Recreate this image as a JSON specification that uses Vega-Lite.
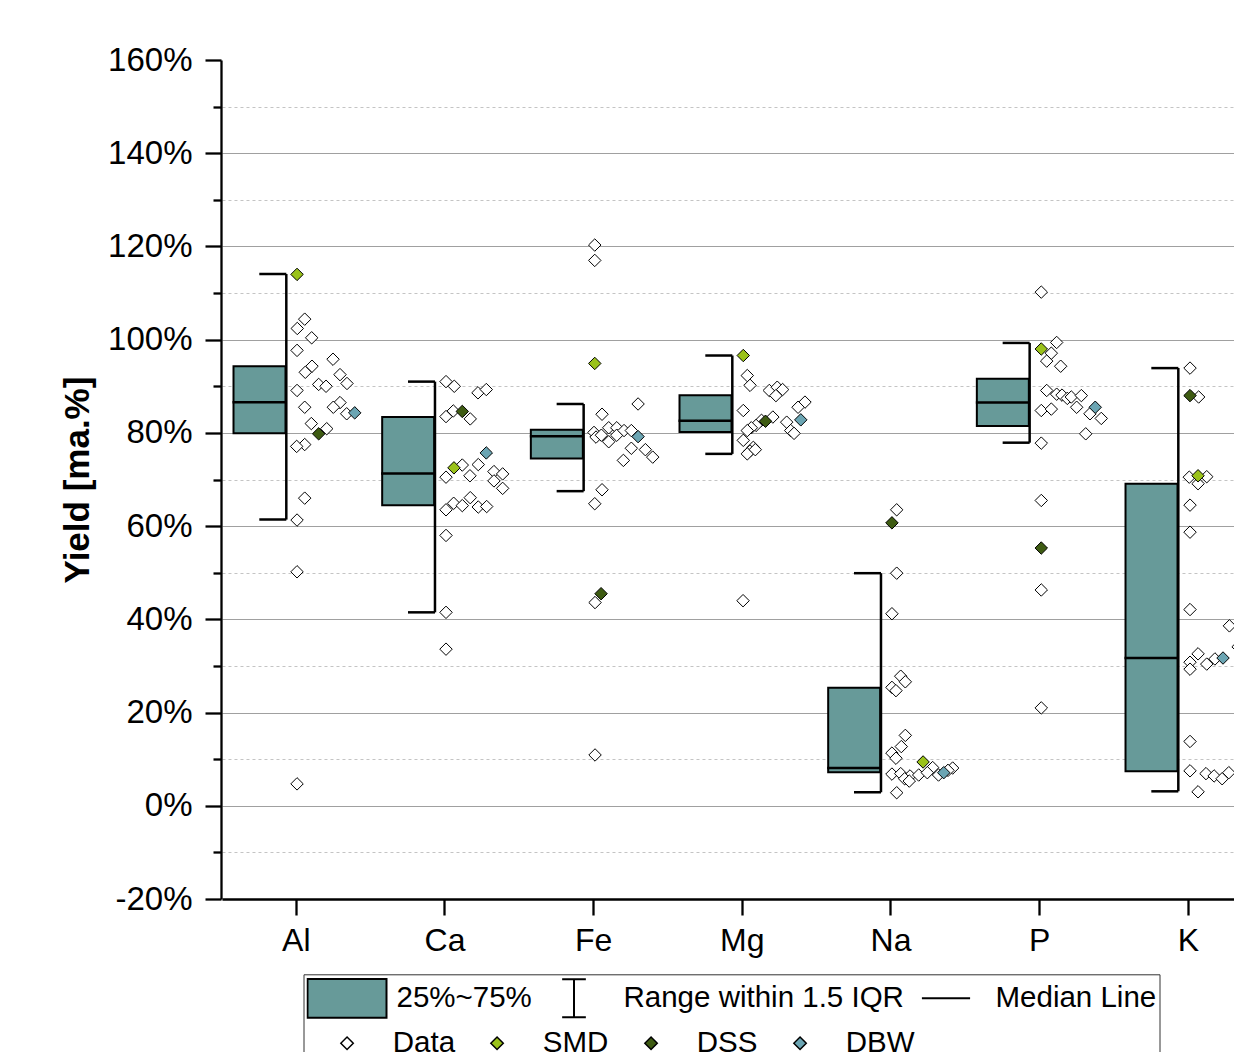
{
  "$schema": "https://vega.github.io/schema/vega-lite/v6.json",
  "autosize": "none",
  "width": 1013,
  "height": 839,
  "padding": {"left": 221, "top": 60, "right": 0, "bottom": 153},
  "background": "white",
  "config": {"view": {"stroke": null}, "font": "Liberation Sans"},
  "datasets": {
    "boxes": [
      {"cat": "Al", "lo": 61.4, "q1": 79.9, "med": 86.6, "q3": 94.3, "hi": 114.1},
      {"cat": "Ca", "lo": 41.5, "q1": 64.5, "med": 71.3, "q3": 83.4, "hi": 91.0},
      {"cat": "Fe", "lo": 67.5, "q1": 74.5, "med": 79.3, "q3": 80.7, "hi": 86.2},
      {"cat": "Mg", "lo": 75.5, "q1": 80.2, "med": 82.6, "q3": 88.1, "hi": 96.6},
      {"cat": "Na", "lo": 2.9, "q1": 7.2, "med": 8.1, "q3": 25.3, "hi": 49.9},
      {"cat": "P", "lo": 77.9, "q1": 81.5, "med": 86.5, "q3": 91.6, "hi": 99.3},
      {"cat": "K", "lo": 3.1, "q1": 7.4, "med": 31.7, "q3": 69.1, "hi": 93.9}
    ],
    "points": [
      {"cat": "Al", "series": "Data", "value": 104.4, "jitter": 1.13},
      {"cat": "Al", "series": "Data", "value": 102.4, "jitter": 0.13},
      {"cat": "Al", "series": "Data", "value": 100.4, "jitter": 2.07},
      {"cat": "Al", "series": "Data", "value": 97.7, "jitter": 0.1},
      {"cat": "Al", "series": "Data", "value": 95.8, "jitter": 4.94},
      {"cat": "Al", "series": "Data", "value": 94.3, "jitter": 2.11},
      {"cat": "Al", "series": "Data", "value": 93.0, "jitter": 1.21},
      {"cat": "Al", "series": "Data", "value": 92.5, "jitter": 5.88},
      {"cat": "Al", "series": "Data", "value": 90.6, "jitter": 6.82},
      {"cat": "Al", "series": "Data", "value": 90.4, "jitter": 3.01},
      {"cat": "Al", "series": "Data", "value": 90.0, "jitter": 4.0},
      {"cat": "Al", "series": "Data", "value": 89.1, "jitter": 0.1},
      {"cat": "Al", "series": "Data", "value": 86.5, "jitter": 5.88},
      {"cat": "Al", "series": "Data", "value": 85.5, "jitter": 4.98},
      {"cat": "Al", "series": "Data", "value": 85.5, "jitter": 1.13},
      {"cat": "Al", "series": "Data", "value": 84.1, "jitter": 6.78},
      {"cat": "Al", "series": "Data", "value": 82.0, "jitter": 2.02},
      {"cat": "Al", "series": "Data", "value": 80.9, "jitter": 4.09},
      {"cat": "Al", "series": "Data", "value": 77.5, "jitter": 1.13},
      {"cat": "Al", "series": "Data", "value": 77.1, "jitter": 0.05},
      {"cat": "Al", "series": "Data", "value": 66.0, "jitter": 1.13},
      {"cat": "Al", "series": "Data", "value": 61.3, "jitter": 0.1},
      {"cat": "Al", "series": "Data", "value": 50.2, "jitter": 0.1},
      {"cat": "Al", "series": "Data", "value": 4.7, "jitter": 0.1},
      {"cat": "Ca", "series": "Data", "value": 91.0, "jitter": 0.14},
      {"cat": "Ca", "series": "Data", "value": 90.0, "jitter": 1.25},
      {"cat": "Ca", "series": "Data", "value": 88.6, "jitter": 4.44},
      {"cat": "Ca", "series": "Data", "value": 89.3, "jitter": 5.56},
      {"cat": "Ca", "series": "Data", "value": 83.5, "jitter": 0.14},
      {"cat": "Ca", "series": "Data", "value": 84.7, "jitter": 1.12},
      {"cat": "Ca", "series": "Data", "value": 83.0, "jitter": 3.4},
      {"cat": "Ca", "series": "Data", "value": 73.2, "jitter": 4.48},
      {"cat": "Ca", "series": "Data", "value": 73.1, "jitter": 2.33},
      {"cat": "Ca", "series": "Data", "value": 70.5, "jitter": 0.14},
      {"cat": "Ca", "series": "Data", "value": 70.8, "jitter": 3.36},
      {"cat": "Ca", "series": "Data", "value": 71.7, "jitter": 6.59},
      {"cat": "Ca", "series": "Data", "value": 71.2, "jitter": 7.76},
      {"cat": "Ca", "series": "Data", "value": 69.7, "jitter": 6.59},
      {"cat": "Ca", "series": "Data", "value": 68.1, "jitter": 7.76},
      {"cat": "Ca", "series": "Data", "value": 63.5, "jitter": 0.14},
      {"cat": "Ca", "series": "Data", "value": 64.9, "jitter": 1.17},
      {"cat": "Ca", "series": "Data", "value": 64.4, "jitter": 2.33},
      {"cat": "Ca", "series": "Data", "value": 66.1, "jitter": 3.4},
      {"cat": "Ca", "series": "Data", "value": 64.1, "jitter": 4.48},
      {"cat": "Ca", "series": "Data", "value": 64.2, "jitter": 5.61},
      {"cat": "Ca", "series": "Data", "value": 58.0, "jitter": 0.14},
      {"cat": "Ca", "series": "Data", "value": 41.5, "jitter": 0.14},
      {"cat": "Ca", "series": "Data", "value": 33.6, "jitter": 0.14},
      {"cat": "Fe", "series": "Data", "value": 120.3, "jitter": 0.15},
      {"cat": "Fe", "series": "Data", "value": 117.0, "jitter": 0.15},
      {"cat": "Fe", "series": "Data", "value": 86.2, "jitter": 5.98},
      {"cat": "Fe", "series": "Data", "value": 84.0, "jitter": 1.13},
      {"cat": "Fe", "series": "Data", "value": 80.1, "jitter": 0.05},
      {"cat": "Fe", "series": "Data", "value": 79.1, "jitter": 0.32},
      {"cat": "Fe", "series": "Data", "value": 79.5, "jitter": 1.04},
      {"cat": "Fe", "series": "Data", "value": 81.1, "jitter": 2.03},
      {"cat": "Fe", "series": "Data", "value": 78.1, "jitter": 2.03},
      {"cat": "Fe", "series": "Data", "value": 81.1, "jitter": 3.11},
      {"cat": "Fe", "series": "Data", "value": 79.5, "jitter": 3.11},
      {"cat": "Fe", "series": "Data", "value": 80.5, "jitter": 4.09},
      {"cat": "Fe", "series": "Data", "value": 80.5, "jitter": 5.07},
      {"cat": "Fe", "series": "Data", "value": 76.7, "jitter": 5.07},
      {"cat": "Fe", "series": "Data", "value": 76.4, "jitter": 6.96},
      {"cat": "Fe", "series": "Data", "value": 74.8, "jitter": 7.95},
      {"cat": "Fe", "series": "Data", "value": 74.1, "jitter": 4.0},
      {"cat": "Fe", "series": "Data", "value": 67.8, "jitter": 1.13},
      {"cat": "Fe", "series": "Data", "value": 64.8, "jitter": 0.15},
      {"cat": "Fe", "series": "Data", "value": 43.6, "jitter": 0.19},
      {"cat": "Fe", "series": "Data", "value": 10.9, "jitter": 0.19},
      {"cat": "Mg", "series": "Data", "value": 92.3, "jitter": 0.67},
      {"cat": "Mg", "series": "Data", "value": 90.2, "jitter": 1.04},
      {"cat": "Mg", "series": "Data", "value": 89.1, "jitter": 3.63},
      {"cat": "Mg", "series": "Data", "value": 89.8, "jitter": 4.7},
      {"cat": "Mg", "series": "Data", "value": 89.3, "jitter": 5.42},
      {"cat": "Mg", "series": "Data", "value": 88.0, "jitter": 4.52},
      {"cat": "Mg", "series": "Data", "value": 86.6, "jitter": 8.43},
      {"cat": "Mg", "series": "Data", "value": 85.5, "jitter": 7.5},
      {"cat": "Mg", "series": "Data", "value": 84.8, "jitter": 0.13},
      {"cat": "Mg", "series": "Data", "value": 83.4, "jitter": 4.11},
      {"cat": "Mg", "series": "Data", "value": 82.7, "jitter": 2.58},
      {"cat": "Mg", "series": "Data", "value": 82.3, "jitter": 5.97},
      {"cat": "Mg", "series": "Data", "value": 81.6, "jitter": 1.85},
      {"cat": "Mg", "series": "Data", "value": 81.1, "jitter": 1.21},
      {"cat": "Mg", "series": "Data", "value": 80.5, "jitter": 0.67},
      {"cat": "Mg", "series": "Data", "value": 80.5, "jitter": 6.51},
      {"cat": "Mg", "series": "Data", "value": 79.9, "jitter": 6.96},
      {"cat": "Mg", "series": "Data", "value": 78.4, "jitter": 0.13},
      {"cat": "Mg", "series": "Data", "value": 76.9, "jitter": 1.48},
      {"cat": "Mg", "series": "Data", "value": 76.1, "jitter": 1.04},
      {"cat": "Mg", "series": "Data", "value": 75.5, "jitter": 0.67},
      {"cat": "Mg", "series": "Data", "value": 76.4, "jitter": 1.75},
      {"cat": "Mg", "series": "Data", "value": 44.0, "jitter": 0.1},
      {"cat": "Na", "series": "Data", "value": 63.5, "jitter": 0.77},
      {"cat": "Na", "series": "Data", "value": 49.9, "jitter": 0.77},
      {"cat": "Na", "series": "Data", "value": 41.2, "jitter": 0.13},
      {"cat": "Na", "series": "Data", "value": 27.8, "jitter": 1.31},
      {"cat": "Na", "series": "Data", "value": 26.6, "jitter": 1.93},
      {"cat": "Na", "series": "Data", "value": 25.4, "jitter": 0.13},
      {"cat": "Na", "series": "Data", "value": 24.7, "jitter": 0.67},
      {"cat": "Na", "series": "Data", "value": 15.1, "jitter": 1.93},
      {"cat": "Na", "series": "Data", "value": 12.7, "jitter": 1.39},
      {"cat": "Na", "series": "Data", "value": 11.3, "jitter": 0.13},
      {"cat": "Na", "series": "Data", "value": 10.2, "jitter": 0.67},
      {"cat": "Na", "series": "Data", "value": 8.2, "jitter": 5.61},
      {"cat": "Na", "series": "Data", "value": 8.1, "jitter": 8.3},
      {"cat": "Na", "series": "Data", "value": 7.6, "jitter": 7.67},
      {"cat": "Na", "series": "Data", "value": 6.6, "jitter": 6.4},
      {"cat": "Na", "series": "Data", "value": 6.8, "jitter": 0.13},
      {"cat": "Na", "series": "Data", "value": 6.9, "jitter": 1.31},
      {"cat": "Na", "series": "Data", "value": 6.4, "jitter": 2.56},
      {"cat": "Na", "series": "Data", "value": 6.6, "jitter": 3.73},
      {"cat": "Na", "series": "Data", "value": 7.1, "jitter": 4.89},
      {"cat": "Na", "series": "Data", "value": 5.8, "jitter": 1.84},
      {"cat": "Na", "series": "Data", "value": 5.3, "jitter": 2.46},
      {"cat": "Na", "series": "Data", "value": 2.8, "jitter": 0.77},
      {"cat": "P", "series": "Data", "value": 110.2, "jitter": 0.22},
      {"cat": "P", "series": "Data", "value": 99.4, "jitter": 2.29},
      {"cat": "P", "series": "Data", "value": 97.1, "jitter": 1.57},
      {"cat": "P", "series": "Data", "value": 95.4, "jitter": 0.95},
      {"cat": "P", "series": "Data", "value": 94.3, "jitter": 2.83},
      {"cat": "P", "series": "Data", "value": 89.1, "jitter": 0.95},
      {"cat": "P", "series": "Data", "value": 88.3, "jitter": 2.29},
      {"cat": "P", "series": "Data", "value": 88.1, "jitter": 3.01},
      {"cat": "P", "series": "Data", "value": 87.4, "jitter": 3.72},
      {"cat": "P", "series": "Data", "value": 87.7, "jitter": 4.26},
      {"cat": "P", "series": "Data", "value": 88.0, "jitter": 5.61},
      {"cat": "P", "series": "Data", "value": 85.5, "jitter": 4.98},
      {"cat": "P", "series": "Data", "value": 84.1, "jitter": 6.77},
      {"cat": "P", "series": "Data", "value": 83.1, "jitter": 8.29},
      {"cat": "P", "series": "Data", "value": 84.8, "jitter": 0.22},
      {"cat": "P", "series": "Data", "value": 85.1, "jitter": 1.57},
      {"cat": "P", "series": "Data", "value": 79.8, "jitter": 6.2},
      {"cat": "P", "series": "Data", "value": 77.8, "jitter": 0.22},
      {"cat": "P", "series": "Data", "value": 65.5, "jitter": 0.22},
      {"cat": "P", "series": "Data", "value": 46.3, "jitter": 0.22},
      {"cat": "P", "series": "Data", "value": 21.0, "jitter": 0.22},
      {"cat": "K", "series": "Data", "value": 93.9, "jitter": 0.23},
      {"cat": "K", "series": "Data", "value": 87.7, "jitter": 1.39},
      {"cat": "K", "series": "Data", "value": 70.5, "jitter": 0.13},
      {"cat": "K", "series": "Data", "value": 70.6, "jitter": 2.48},
      {"cat": "K", "series": "Data", "value": 69.1, "jitter": 1.31},
      {"cat": "K", "series": "Data", "value": 64.5, "jitter": 0.23},
      {"cat": "K", "series": "Data", "value": 58.7, "jitter": 0.23},
      {"cat": "K", "series": "Data", "value": 42.1, "jitter": 0.23},
      {"cat": "K", "series": "Data", "value": 38.6, "jitter": 5.53},
      {"cat": "K", "series": "Data", "value": 34.1, "jitter": 6.7},
      {"cat": "K", "series": "Data", "value": 32.6, "jitter": 1.31},
      {"cat": "K", "series": "Data", "value": 30.8, "jitter": 0.23},
      {"cat": "K", "series": "Data", "value": 29.3, "jitter": 0.23},
      {"cat": "K", "series": "Data", "value": 30.4, "jitter": 2.48},
      {"cat": "K", "series": "Data", "value": 31.5, "jitter": 3.58},
      {"cat": "K", "series": "Data", "value": 13.8, "jitter": 0.23},
      {"cat": "K", "series": "Data", "value": 7.5, "jitter": 0.23},
      {"cat": "K", "series": "Data", "value": 6.9, "jitter": 2.38},
      {"cat": "K", "series": "Data", "value": 6.4, "jitter": 3.47},
      {"cat": "K", "series": "Data", "value": 5.8, "jitter": 4.55},
      {"cat": "K", "series": "Data", "value": 7.1, "jitter": 5.45},
      {"cat": "K", "series": "Data", "value": 3.0, "jitter": 1.31},
      {"cat": "Al", "series": "SMD", "value": 114.0, "jitter": 0.1},
      {"cat": "Ca", "series": "SMD", "value": 72.5, "jitter": 1.21},
      {"cat": "Fe", "series": "SMD", "value": 94.9, "jitter": 0.15},
      {"cat": "Mg", "series": "SMD", "value": 96.6, "jitter": 0.13},
      {"cat": "Na", "series": "SMD", "value": 9.4, "jitter": 4.32},
      {"cat": "P", "series": "SMD", "value": 98.0, "jitter": 0.22},
      {"cat": "K", "series": "SMD", "value": 70.8, "jitter": 1.31},
      {"cat": "Al", "series": "DSS", "value": 79.8, "jitter": 3.01},
      {"cat": "Ca", "series": "DSS", "value": 84.6, "jitter": 2.33},
      {"cat": "Fe", "series": "DSS", "value": 45.5, "jitter": 1.0},
      {"cat": "Mg", "series": "DSS", "value": 82.5, "jitter": 3.12},
      {"cat": "Na", "series": "DSS", "value": 60.7, "jitter": 0.13},
      {"cat": "P", "series": "DSS", "value": 55.3, "jitter": 0.22},
      {"cat": "K", "series": "DSS", "value": 88.0, "jitter": 0.23},
      {"cat": "Al", "series": "DBW", "value": 84.3, "jitter": 7.86},
      {"cat": "Ca", "series": "DBW", "value": 75.7, "jitter": 5.56},
      {"cat": "Fe", "series": "DBW", "value": 79.2, "jitter": 5.98},
      {"cat": "Mg", "series": "DBW", "value": 82.8, "jitter": 7.87},
      {"cat": "Na", "series": "DBW", "value": 7.1, "jitter": 7.1},
      {"cat": "P", "series": "DBW", "value": 85.5, "jitter": 7.48},
      {"cat": "K", "series": "DBW", "value": 31.7, "jitter": 4.67}
    ]
  },
  "encoding": {
    "x": {
      "field": "cat",
      "type": "nominal",
      "sort": ["Al", "Ca", "Fe", "Mg", "Na", "P", "K"],
      "scale": {"type": "band", "paddingInner": 0, "paddingOuter": 0, "range": [0.97, 1041.65]},
      "axis": {
        "title": null,
        "labelFont": "Liberation Sans",
        "labelFontSize": 32,
        "labelColor": "black",
        "labelPadding": 10,
        "labelAngle": 0,
        "tickSize": 16,
        "tickWidth": 2.3,
        "tickColor": "black",
        "domainColor": "black",
        "domainWidth": 2.3,
        "grid": false,
        "bandPosition": 0.5
      }
    }
  },
  "layer": [
    {
      "data": {"name": "boxes"},
      "mark": {"type": "bar", "width": 52, "xOffset": -36.8, "fill": "#679a99", "stroke": "black", "strokeWidth": 2},
      "encoding": {
        "y": {
          "field": "q1",
          "type": "quantitative",
          "scale": {"domain": [-20, 160], "nice": false, "zero": false},
          "axis": {
            "orient": "left",
            "values": [-20, 0, 20, 40, 60, 80, 100, 120, 140, 160],
            "labelExpr": "datum.value + '%'",
            "title": "Yield [ma.%]",
            "titleFont": "Liberation Sans",
            "titleFontSize": 35,
            "titleFontWeight": "bold",
            "titleColor": "black",
            "titlePadding": 12,
            "labelFont": "Liberation Sans",
            "labelFontSize": 33,
            "labelColor": "black",
            "labelPadding": 13,
            "labelFlush": false,
            "labelOverlap": false,
            "tickSize": 16,
            "tickWidth": 2.3,
            "tickColor": "black",
            "domainColor": "black",
            "domainWidth": 2.3,
            "grid": true,
            "gridColor": "#a0a0a0",
            "gridWidth": 1,
            "gridOpacity": {"condition": {"test": "datum.value >= 160 || datum.value <= -20", "value": 0}, "value": 1}
          }
        },
        "y2": {"field": "q3"}
      }
    },
    {
      "data": {"name": "boxes"},
      "mark": {"type": "rule", "xOffset": -10, "strokeWidth": 2.5, "color": "black"},
      "encoding": {
        "y": {
          "field": "lo",
          "type": "quantitative",
          "scale": {"domain": [-20, 160], "nice": false, "zero": false},
          "axis": {
            "orient": "left",
            "values": [-10, 10, 30, 50, 70, 90, 110, 130, 150],
            "labels": false,
            "title": null,
            "domain": false,
            "tickSize": 8,
            "tickWidth": 2.3,
            "tickColor": "black",
            "grid": true,
            "gridDash": [3, 3],
            "gridColor": "#c4c4c4",
            "gridWidth": 1
          }
        },
        "y2": {"field": "hi"}
      }
    },
    {
      "data": {"name": "boxes"},
      "mark": {"type": "tick", "orient": "horizontal", "thickness": 2.5, "xOffset": -23.5, "color": "black", "opacity": 1},
      "encoding": {
        "y": {"field": "hi", "type": "quantitative", "scale": {"domain": [-20, 160], "nice": false, "zero": false}, "axis": null},
        "size": {"value": 27}
      }
    },
    {
      "data": {"name": "boxes"},
      "mark": {"type": "tick", "orient": "horizontal", "thickness": 2.5, "xOffset": -23.5, "color": "black", "opacity": 1},
      "encoding": {
        "y": {"field": "lo", "type": "quantitative", "scale": {"domain": [-20, 160], "nice": false, "zero": false}, "axis": null},
        "size": {"value": 27}
      }
    },
    {
      "data": {"name": "boxes"},
      "mark": {"type": "tick", "orient": "horizontal", "thickness": 2.5, "xOffset": -36.8, "color": "black", "opacity": 1},
      "encoding": {
        "y": {"field": "med", "type": "quantitative", "scale": {"domain": [-20, 160], "nice": false, "zero": false}, "axis": null},
        "size": {"value": 54}
      }
    },
    {
      "data": {"name": "points"},
      "mark": {"type": "point", "shape": "diamond", "filled": true, "size": 155, "stroke": "black", "strokeWidth": 1, "opacity": 1, "clip": true},
      "encoding": {
        "y": {"field": "value", "type": "quantitative", "scale": {"domain": [-20, 160], "nice": false, "zero": false}, "axis": null},
        "xOffset": {"field": "jitter", "type": "quantitative", "scale": {"domain": [0, 20], "range": [74.33, 222.99]}},
        "fill": {
          "field": "series",
          "type": "nominal",
          "scale": {"domain": ["Data", "SMD", "DSS", "DBW"], "range": ["white", "#9ac21a", "#3e5b12", "#6ba5b3"]},
          "legend": {
            "orient": "none",
            "legendX": 111.3,
            "legendY": 963.3,
            "title": null,
            "direction": "horizontal",
            "columns": 4,
            "gridAlign": "none",
            "columnPadding": 27,
            "clipHeight": 40,
            "symbolType": "diamond",
            "symbolSize": 155,
            "labelOffset": 31,
            "labelFont": "Liberation Sans",
            "labelFontSize": 29.5,
            "labelColor": "black",
            "labelLimit": 500,
            "padding": 0
          }
        }
      }
    },
    {
      "data": {"name": "boxes"},
      "mark": {"type": "point", "filled": true, "fill": "#679a99", "stroke": "black", "strokeWidth": 2, "opacity": 0},
      "encoding": {
        "y": {"field": "med", "type": "quantitative", "scale": {"domain": [-20, 160], "nice": false, "zero": false}, "axis": null},
        "shape": {
          "datum": "25%~75%",
          "type": "nominal",
          "scale": {
            "domain": ["25%~75%", "Range within 1.5 IQR", "Median Line", " "],
            "range": ["M-1,-0.49H1V0.49H-1Z", "M-0.3,-0.48H0.3M0,-0.48V0.48M-0.3,0.48H0.3", "M-0.61,0H0.61", "M0,0"]
          },
          "legend": {
            "orient": "none",
            "legendX": 82.5,
            "legendY": 914.3,
            "title": null,
            "direction": "horizontal",
            "columns": 3,
            "gridAlign": "none",
            "columnPadding": 1,
            "rowPadding": 3,
            "clipHeight": 42,
            "symbolSize": 6241,
            "symbolStrokeWidth": 2,
            "symbolOpacity": 1,
            "labelOffset": 9,
            "labelFont": "Liberation Sans",
            "labelFontSize": 29.5,
            "labelColor": "black",
            "labelLimit": 500,
            "padding": 3,
            "strokeColor": "#333333"
          }
        }
      }
    }
  ],
  "resolve": {"scale": {"fill": "independent"}, "axis": {"y": "independent"}}
}
